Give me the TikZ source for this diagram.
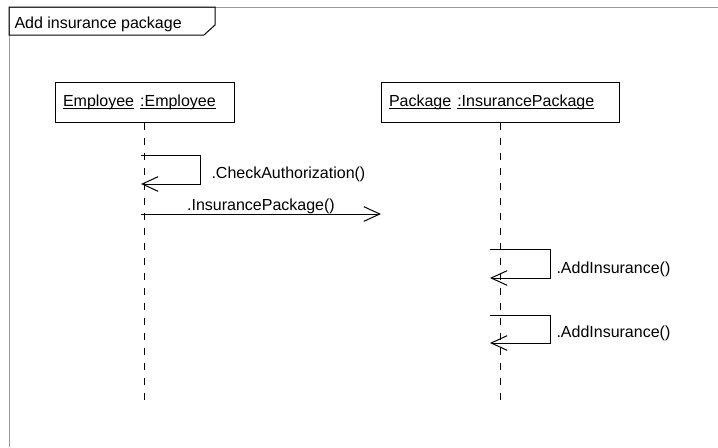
\documentclass[tikz,border=0pt]{standalone}
\usepackage{fontspec}
\setmainfont{Liberation Sans}
\usetikzlibrary{arrows.meta}
\newcommand{\ulword}[1]{\leavevmode\setbox0\hbox{#1}\rlap{\rule[-2.2pt]{\wd0}{0.6pt}}\box0}

\begin{document}
\begin{tikzpicture}[x=0.75pt,y=-0.75pt,line width=0.75pt,
  font=\fontsize{12}{14}\selectfont,
  obj/.style={draw,minimum height=30pt,inner xsep=6pt,align=left},
  life/.style={dash pattern=on 5.25pt off 6pt},
  msg/.style={-{Straight Barb[length=12pt,width=11pt]}},
  call/.style={inner sep=0pt,anchor=base west}]

\useasboundingbox (0,0) rectangle (718,447);

% frame
\draw [gray!80] (9,447) |- (718,7);
\draw  (9,7) -- (215,7) -- (215,25) -- (204,35) -- (9,35) -- cycle;
\node[call] (title) at (14,28) {Add insurance package};

% objects
\node[obj,text width=122.25pt] (emp) at (144.5,102) {\ulword{Employee}\hspace{4.5pt}\ulword{:Employee}};
\node[obj,text width=166.5pt] (pkg) at (500,102) {\ulword{Package}\hspace{4.5pt}\ulword{:InsurancePackage}};

% lifelines
\coordinate (empend) at (144.5,401);
\coordinate (pkgend) at (500,401);
\draw [life] (emp.south) -- (empend);
\draw [life] (pkg.south) -- (pkgend);

% messages
\coordinate (c1a) at (141,155);
\coordinate (c1b) at (141,184);
\draw [msg] (c1a) -- ++(59,0) |- (c1b);
\node[call] (l1) at (211,178) {.CheckAuthorization()};

\coordinate (m1a) at (141,214);
\coordinate (m1b) at (381,214);
\draw [msg] (m1a) -- (m1b);
\node[call,anchor=base] (l2) at (261,210) {.InsurancePackage()};

\coordinate (c2a) at (490,249);
\coordinate (c2b) at (490,278);
\draw [msg] (c2a) -- ++(60,0) |- (c2b);
\node[call] (l3) at (556,273) {.AddInsurance()};

\coordinate (c3a) at (490,315);
\coordinate (c3b) at (490,343);
\draw [msg] (c3a) -- ++(60,0) |- (c3b);
\node[call] (l4) at (556,337) {.AddInsurance()};
\end{tikzpicture}
\end{document}
